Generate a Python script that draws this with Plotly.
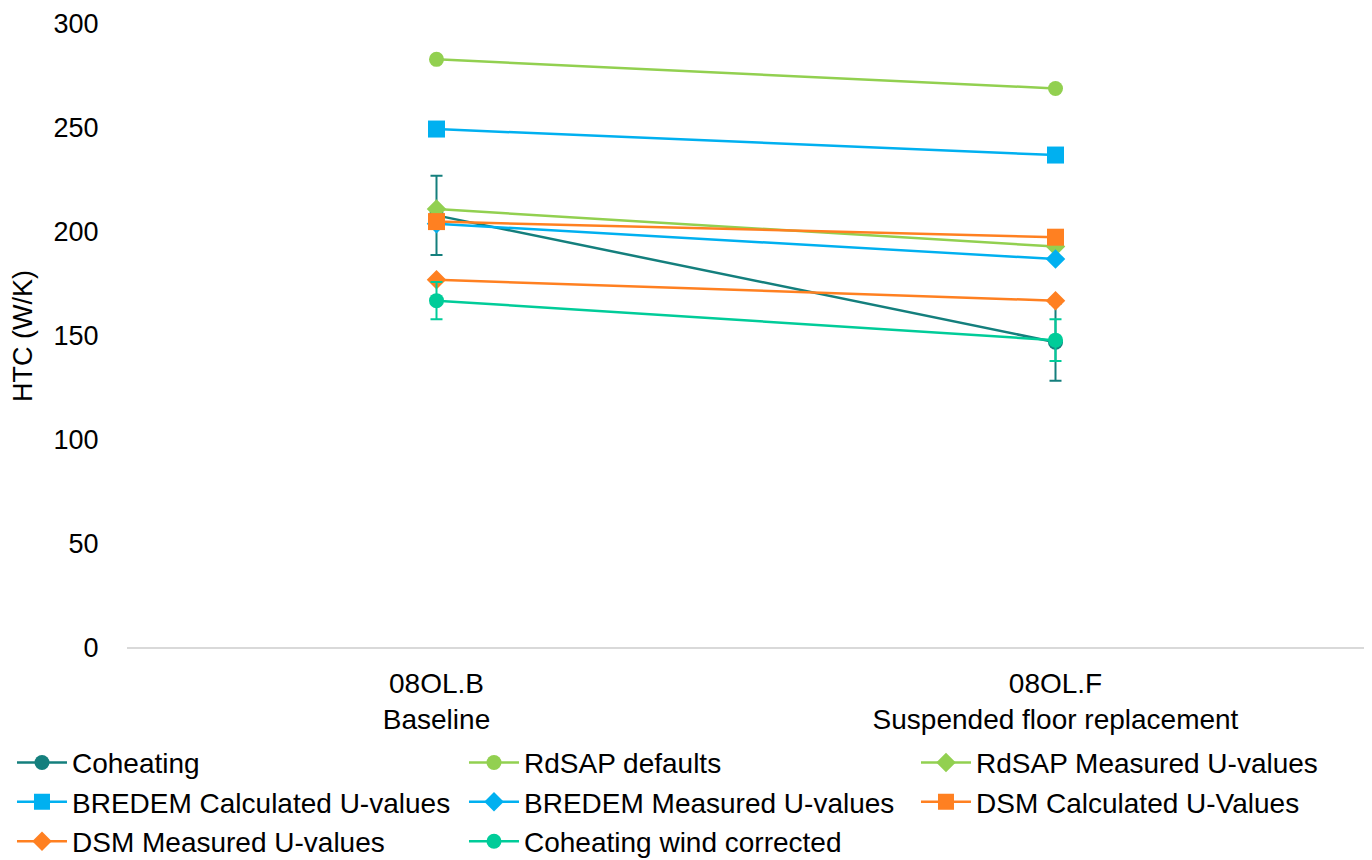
import plotly.graph_objects as go

categories = ["08OL.B<br>Baseline", "08OL.F<br>Suspended floor replacement"]

series_names = [
    "Coheating", "RdSAP defaults", "RdSAP Measured U-values",
    "BREDEM Calculated U-values", "BREDEM Measured U-values", "DSM Calculated U-Values",
    "DSM Measured U-values", "Coheating wind corrected",
]
coheating = [208, 147]
coheating_err = [19, 18.5]
rdsap_defaults = [283, 269]
rdsap_measured = [211, 193]
bredem_calc = [249.5, 237]
bredem_meas = [204, 187]
dsm_calc = [205, 197.5]
dsm_meas = [177, 167]
wind_corrected = [167, 148]
wind_err = [9, 10]

colors = ["#147F7D", "#92D050", "#92D050", "#00B0F0", "#00B0F0", "#FF8021", "#FF8021", "#00CC99"]
symbols = ["circle", "circle", "diamond", "square", "diamond", "square", "diamond", "circle"]
sizes = [15, 15, 15, 17, 15, 17, 15, 15]
values = [coheating, rdsap_defaults, rdsap_measured, bredem_calc, bredem_meas, dsm_calc, dsm_meas, wind_corrected]
errors = [coheating_err, None, None, None, None, None, None, wind_err]

fig = go.Figure()
for name, vals, col, sym, sz, err in zip(series_names, values, colors, symbols, sizes, errors):
    kw = {}
    if err is not None:
        kw["error_y"] = dict(type="data", array=err, visible=True, color=col, thickness=2, width=6)
    fig.add_trace(go.Scatter(
        x=categories, y=vals, name=name, mode="lines+markers",
        line=dict(color=col, width=2.5),
        marker=dict(symbol=sym, size=sz, color=col),
        **kw,
    ))

FONT = "Liberation Sans, Arial, sans-serif"
fig.update_layout(
    width=1372, height=860,
    paper_bgcolor="white", plot_bgcolor="white",
    font=dict(family=FONT, size=27, color="#000000"),
    margin=dict(l=119, r=15, t=16, b=220, autoexpand=False),
    showlegend=True,
    legend=dict(
        orientation="h", x=-0.0929, y=-0.1438, xanchor="left", yanchor="top",
        entrywidth=387, entrywidthmode="pixels",
        font=dict(family=FONT, size=28), itemwidth=50, tracegroupgap=0,
    ),
    xaxis=dict(
        type="category", range=[-0.5, 1.5], showgrid=False, showline=False,
        ticks="outside", ticklen=10, tickcolor="rgba(0,0,0,0)",
        tickfont=dict(size=28), zeroline=False, automargin=False,
    ),
    yaxis=dict(
        range=[0, 300], tickvals=[0, 50, 100, 150, 200, 250, 300],
        showgrid=False, zeroline=True, zerolinecolor="#D9D9D9", zerolinewidth=1.5,
        showline=False, ticks="outside", ticklen=22, tickcolor="rgba(0,0,0,0)",
        tickfont=dict(size=27), automargin=False,
        title=dict(text="HTC (W/K)", font=dict(size=27), standoff=15),
    ),
)

fig.write_html("out.html")
